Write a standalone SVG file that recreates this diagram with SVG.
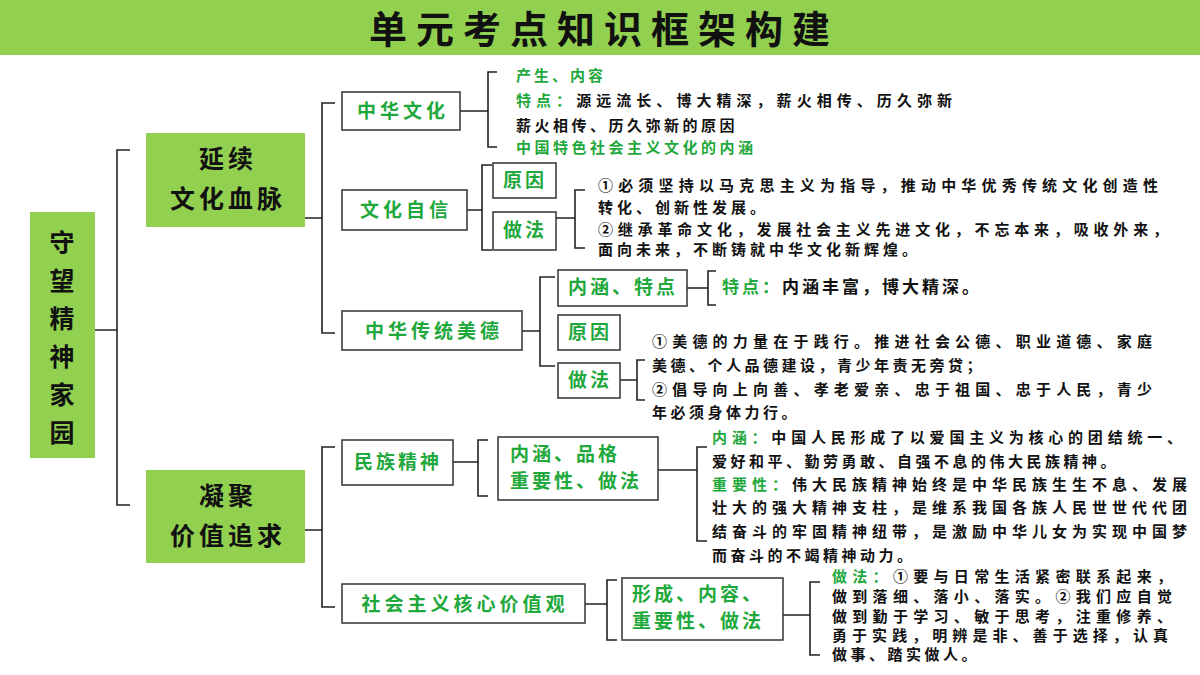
<svg xmlns="http://www.w3.org/2000/svg" width="1200" height="675" viewBox="0 0 1200 675">
<style>
text{font-family:"Noto Sans CJK SC","Noto Sans",sans-serif;font-weight:bold}
.gb{fill:#92D050}
.wb{fill:#fff;stroke:#333;stroke-width:1.5}
.br{fill:none;stroke:#222;stroke-width:1.6}
.g{fill:#1FA83C}
.k{fill:#111}
.t{font-size:15px}
.n{font-size:19px;fill:#1FA83C}
.m{font-size:25px;fill:#111}
</style>
<rect width="1200" height="675" fill="#fff"/>
<g id="title"><rect x="0" y="0" width="1200" height="55" class="gb"/>
<text x="604" y="43" text-anchor="middle" font-size="38" class="k" letter-spacing="9">单元考点知识框架构建</text></g>
<g id="connectors">
<path class="br" d="M95,330H117M130,150H117V505H130"/>
<path class="br" d="M305,218H322M335,103H322V333H335"/>
<path class="br" d="M305,530H322M335,447H322V607H335"/>
<path class="br" d="M460,111H488M497,72H488V147H497"/>
<path class="br" d="M467,210H482M492,165H482V250H492"/>
<path class="br" d="M556,218H575M585,190H575V248H585"/>
<path class="br" d="M522,331H540M555,277H540V366H555"/>
<path class="br" d="M687,288H708M716,271H708V305H716"/>
<path class="br" d="M620,380H637M645,360H637V400H645"/>
<path class="br" d="M453,462H478M488,440H478V496H488"/>
<path class="br" d="M658,470H697M707,447H697V541H707"/>
<path class="br" d="M585,604H607M617,580H607V640H617"/>
<path class="br" d="M783,615H810M820,582H810V655H820"/>
</g>
<g id="root"><rect x="30" y="212" width="65" height="246" class="gb"/>
<text class="m" font-size="32" text-anchor="middle"><tspan x="62" y="252">守</tspan><tspan x="62" y="290">望</tspan><tspan x="62" y="328">精</tspan><tspan x="62" y="366">神</tspan><tspan x="62" y="404">家</tspan><tspan x="62" y="442">园</tspan></text></g>
<g id="n-yanxu"><rect x="146" y="133" width="159" height="94" class="gb"/>
<text class="m" text-anchor="middle" letter-spacing="4"><tspan x="228" y="168">延续</tspan><tspan x="228" y="208">文化血脉</tspan></text></g>
<g id="n-ningju"><rect x="146" y="470" width="159" height="93" class="gb"/>
<text class="m" text-anchor="middle" letter-spacing="4"><tspan x="228" y="505">凝聚</tspan><tspan x="228" y="545">价值追求</tspan></text></g>
<g id="n-zhwh"><rect x="342" y="92" width="118" height="38" class="wb"/><text class="n" x="403" y="118" text-anchor="middle" letter-spacing="4">中华文化</text></g>
<g id="n-zhwh-c">
<text class="t g" x="516" y="81" letter-spacing="3">产生、内容</text>
<text class="t k" x="516" y="106" textLength="436"><tspan class="g">特点：</tspan>源远流长、博大精深，薪火相传、历久弥新</text>
<text class="t k" x="516" y="131" letter-spacing="3.5">薪火相传、历久弥新的原因</text>
<text class="t g" x="516" y="153" letter-spacing="3.5">中国特色社会主义文化的内涵</text></g>
<g id="n-whzx"><rect x="342" y="190" width="125" height="40" class="wb"/><text class="n" x="406" y="217" text-anchor="middle" letter-spacing="4">文化自信</text></g>
<g id="n-yy1"><rect x="493" y="163" width="63" height="35" class="wb"/><text class="n" font-size="17" x="525" y="187" text-anchor="middle" letter-spacing="3">原因</text></g>
<g id="n-zf1"><rect x="493" y="212" width="63" height="38" class="wb"/><text class="n" font-size="17" x="525" y="237" text-anchor="middle" letter-spacing="3">做法</text></g>
<g id="n-whzx-t" class="t k">
<text x="598" y="191" textLength="560">①必须坚持以马克思主义为指导，推动中华优秀传统文化创造性</text>
<text x="598" y="213" letter-spacing="4">转化、创新性发展。</text>
<text x="598" y="235" textLength="570">②继承革命文化，发展社会主义先进文化，不忘本来，吸收外来，</text>
<text x="598" y="255" letter-spacing="4">面向未来，不断铸就中华文化新辉煌。</text></g>
<g id="n-ctmd"><rect x="342" y="311" width="180" height="39" class="wb"/><text class="n" x="434" y="338" text-anchor="middle" letter-spacing="4">中华传统美德</text></g>
<g id="n-nhtd"><rect x="558" y="270" width="129" height="36" class="wb"/><text class="n" font-size="17" x="623" y="294" text-anchor="middle" letter-spacing="3">内涵、特点</text></g>
<g id="n-yy2"><rect x="558" y="315" width="62" height="35" class="wb"/><text class="n" font-size="17" x="590" y="339" text-anchor="middle" letter-spacing="3">原因</text></g>
<g id="n-zf2"><rect x="558" y="363" width="62" height="35" class="wb"/><text class="n" font-size="17" x="590" y="387" text-anchor="middle" letter-spacing="3">做法</text></g>
<g id="n-md-t" class="t k">
<text x="722" y="293" font-size="17" letter-spacing="3"><tspan class="g">特点：</tspan>内涵丰富，博大精深。</text>
<text x="652" y="347" textLength="500">①美德的力量在于践行。推进社会公德、职业道德、家庭</text>
<text x="652" y="371" letter-spacing="3.5">美德、个人品德建设，青少年责无旁贷；</text>
<text x="652" y="395" textLength="500">②倡导向上向善、孝老爱亲、忠于祖国、忠于人民，青少</text>
<text x="652" y="418" letter-spacing="3.5">年必须身体力行。</text></g>
<g id="n-mzjs"><rect x="342" y="440" width="111" height="45" class="wb"/><text class="n" font-size="18" x="398" y="469" text-anchor="middle" letter-spacing="3">民族精神</text></g>
<g id="n-nhpg"><rect x="498" y="437" width="160" height="63" class="wb"/><text class="n" font-size="18" letter-spacing="3"><tspan x="510" y="461">内涵、品格</tspan><tspan x="510" y="488">重要性、做法</tspan></text></g>
<g id="n-mz-t" class="t k">
<text x="712" y="443" textLength="470"><tspan class="g">内涵：</tspan>中国人民形成了以爱国主义为核心的团结统一、</text>
<text x="712" y="467" letter-spacing="3.5">爱好和平、勤劳勇敢、自强不息的伟大民族精神。</text>
<text x="712" y="490" textLength="475"><tspan class="g">重要性：</tspan>伟大民族精神始终是中华民族生生不息、发展</text>
<text x="712" y="513" textLength="475">壮大的强大精神支柱，是维系我国各族人民世世代代团</text>
<text x="712" y="537" textLength="475">结奋斗的牢固精神纽带，是激励中华儿女为实现中国梦</text>
<text x="712" y="561" letter-spacing="3.5">而奋斗的不竭精神动力。</text></g>
<g id="n-hxjzg"><rect x="342" y="584" width="243" height="39" class="wb"/><text class="n" x="465" y="611" text-anchor="middle" letter-spacing="4">社会主义核心价值观</text></g>
<g id="n-xcnr"><rect x="622" y="578" width="161" height="62" class="wb"/><text class="n" font-size="18" letter-spacing="3"><tspan x="632" y="601">形成、内容、</tspan><tspan x="632" y="628">重要性、做法</tspan></text></g>
<g id="n-hx-t" class="t k">
<text x="832" y="582" textLength="340"><tspan class="g">做法：</tspan>①要与日常生活紧密联系起来，</text>
<text x="832" y="602" textLength="340">做到落细、落小、落实。②我们应自觉</text>
<text x="832" y="622" textLength="340">做到勤于学习、敏于思考，注重修养、</text>
<text x="832" y="641" textLength="336">勇于实践，明辨是非、善于选择，认真</text>
<text x="832" y="660" letter-spacing="3.5">做事、踏实做人。</text></g>
</svg>
